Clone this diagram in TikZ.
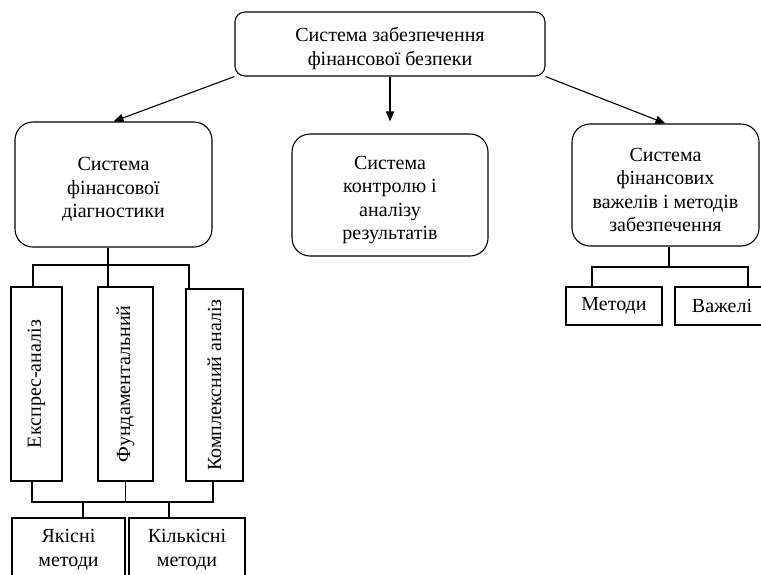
\documentclass[tikz,border=0pt]{standalone}
\usepackage{fontspec}
\setmainfont{Liberation Serif}
\usetikzlibrary{arrows.meta}
\newcommand\diafont{\fontsize{20}{23.5}\selectfont}
\newcommand\toppad{\rule{0pt}{23pt}}
\begin{document}
\begin{tikzpicture}[x=1pt,y=-1pt,line width=1.1pt,
  rbox/.style={draw,rounded corners=18pt,align=center,font=\diafont,inner sep=0pt},
  sbox/.style={draw,align=center,font=\diafont,inner sep=0pt},
  vbox/.style={draw,rotate=90,font=\diafont,inner sep=0pt},
  arr/.style={-{Triangle[length=10pt,width=8pt]}}]
\useasboundingbox (0,0) rectangle (761,574);
\clip (0,0) rectangle (761,574);
% main nodes
\node[rbox,rounded corners=10pt,minimum width=310,minimum height=64] (top) at (390,44) {\toppad Система забезпечення\\фінансової безпеки};
\node[rbox,minimum width=197,minimum height=125] (left) at (113.5,184.5) {\toppad Система\\фінансової\\діагностики};
\node[rbox,minimum width=196,minimum height=122] (mid) at (390,195) {\toppad Система\\контролю і\\аналізу\\результатів};
\node[rbox,minimum width=187,minimum height=122] (right) at (665.5,185) {\toppad Система\\фінансових\\важелів і методів\\забезпечення};
% arrows
\draw[arr] (top.south west) -- (left.north);
\draw[arr,shorten >=12pt] (top.south) -- (mid.north);
\draw[arr] (top.south east) -- (right.north);
% vertical boxes
\node[vbox,minimum width=194,minimum height=51] (e1) at (36.5,384) {Експрес-аналіз};
\node[vbox,minimum width=194,minimum height=55] (e2) at (125.5,384) {Фундаментальний\hspace{22pt}};
\node[vbox,minimum width=192,minimum height=57] (e3) at (214.5,385) {Комплексний аналіз\hspace{8pt}};
% bottom boxes
\node[sbox,minimum width=113,minimum height=64] (q1) at (68.5,550) {Якісні\\методи};
\node[sbox,minimum width=116,minimum height=64] (q2) at (187,550) {Кількісні\\методи};
% right boxes
\node[sbox,minimum width=96,minimum height=38] (m1) at (614,306) {Методи};
\node[sbox,minimum width=94,minimum height=38] (m2) at (722,306) {Важелі};
% left tree top connectors
\coordinate (b1) at (33,265);
\coordinate (b2) at (108,265);
\coordinate (b3) at (189,265);
\draw (b1 |- e1.east) -- (b1) -- (b3) -- (b3 |- e3.east);
\draw (left.south -| b2) -- (b2 |- e2.east);
% left tree bottom connectors
\coordinate (d1) at (32,502);
\coordinate (d3) at (213,502);
\coordinate (k1) at (83,502);
\coordinate (k2) at (169,502);
\draw (e1.west -| d1) -- (d1) -- (d3) -- (d3 |- e3.west);
\draw (e2.west) -- (e2.west |- d1);
\draw (k1) -- (k1 |- q1.north);
\draw (k2) -- (k2 |- q2.north);
% right tree
\coordinate (r0) at (669,267);
\coordinate (r1) at (592,267);
\coordinate (r2) at (748,267);
\draw (r0 |- right.south) -- (r0);
\draw (r1 |- m1.north) -- (r1) -- (r2) -- (r2 |- m2.north);
\end{tikzpicture}
\end{document}
